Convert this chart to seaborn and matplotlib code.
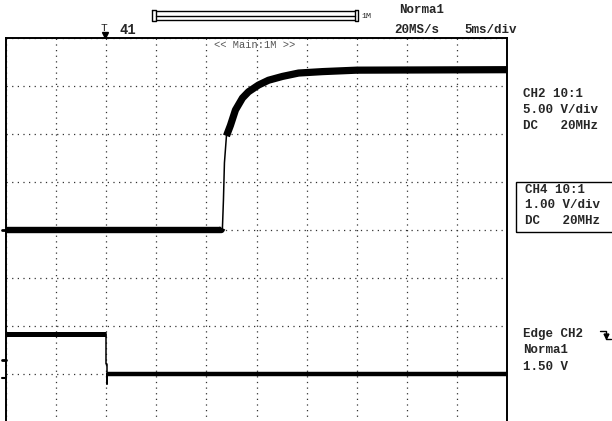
import numpy as np
import pandas as pd
import matplotlib
matplotlib.use('Agg')
import matplotlib.pyplot as plt
from matplotlib.lines import Line2D
from matplotlib.patches import Rectangle
import seaborn as sns

# scope settings: 5 ms/div, 10 divisions across, 8 down
ms_per_div = 5
ch2_scale = 5.0   # V/div
ch4_scale = 1.0   # V/div

# CH2 trace (ms, V)
ch2_t = [0.0, 21.5, 21.6, 21.7, 21.8, 22.0, 22.4, 22.9, 23.6, 24.2, 25.2, 26.2, 27.6, 29.2, 31.6, 35.0, 50.0]
ch2_v = [0.0, 0.0, 0.2, 3.1, 7.0, 9.8, 10.9, 12.5, 13.75, 14.4, 15.1, 15.6, 16.0, 16.35, 16.5, 16.65, 16.7]
# CH4 trace (ms, V)
ch4_t = [0.0, 10.0, 10.0, 10.1, 10.1, 10.1, 50.0]
ch4_v = [0.83, 0.83, 0.2, 0.2, -0.2, 0.0, 0.0]

ch2_pos = 4.0   # ground position in divisions from bottom
ch4_pos = 1.0

W, H = 612, 421

sns.set_style("white")
plt.rcParams['font.family'] = ['Liberation Mono', 'DejaVu Sans Mono']

fig = plt.figure(figsize=(W / 100, H / 100), dpi=100)
fig.patch.set_facecolor('white')


def px(x, y):
    return x / W, 1 - y / H


ax = fig.add_axes([6 / W, -1 / H, 501 / W, 384 / H])

df2 = pd.DataFrame({'t': ch2_t, 'y': ch2_pos + np.array(ch2_v) / ch2_scale})
df4 = pd.DataFrame({'t': ch4_t, 'y': ch4_pos + np.array(ch4_v) / ch4_scale})

line_kw = dict(ax=ax, color='black', sort=False, estimator=None, solid_capstyle='butt')

# thin full traces (edges), then thick noisy bands on the flat parts
sns.lineplot(data=df2, x='t', y='y', lw=1.1, **line_kw)
sns.lineplot(data=df4, x='t', y='y', lw=1.1, **line_kw)
sns.lineplot(data=df2[df2.t <= 21.6], x='t', y='y', lw=4.6, **line_kw)
sns.lineplot(data=df2[df2.t >= 22.0], x='t', y='y', lw=5.2, **line_kw)
ch4_high = df4[(df4.t < 10.0) | ((df4.t == 10.0) & (df4.y == df4.y.max()))]
ch4_low = df4[(df4.t > 10.1) | ((df4.t == 10.1) & (df4.y == ch4_pos))]
sns.lineplot(data=ch4_high, x='t', y='y', lw=3.6, **line_kw)
sns.lineplot(data=ch4_low, x='t', y='y', lw=3.2, **line_kw)

ax.set_xlim(0, 10 * ms_per_div)
ax.set_ylim(0, 8)
ax.set_xticks(np.arange(0, 10 * ms_per_div + 1, ms_per_div))
ax.set_yticks(np.arange(0, 9, 1))
ax.set_xticklabels([])
ax.set_yticklabels([])
ax.tick_params(length=0)
ax.set_xlabel('')
ax.set_ylabel('')
ax.grid(True, color='#333333', lw=0.9, linestyle=(0, (1, 3.5)))
for s in ['top', 'left', 'right']:
    ax.spines[s].set_visible(True)
    ax.spines[s].set_color('black')
    ax.spines[s].set_linewidth(1.4)
ax.spines['bottom'].set_visible(False)


def ftext(x, y, s, **kw):
    kw.setdefault('fontsize', 9)
    kw.setdefault('fontweight', 'bold')
    kw.setdefault('va', 'center')
    kw.setdefault('ha', 'left')
    fig.text(*px(x, y), s, **kw)


def fline(xs, ys, **kw):
    fx = [x / W for x in xs]
    fy = [1 - y / H for y in ys]
    kw.setdefault('color', 'black')
    kw.setdefault('lw', 1)
    fig.add_artist(Line2D(fx, fy, **kw))


# top status bar
fline([152, 152, 156, 156, 152], [10, 21, 21, 10, 10])
fline([156, 355], [11, 11])
fline([156, 355], [15.5, 15.5])
fline([156, 355], [20, 20])
fline([355, 355, 358, 358, 355], [10, 21, 21, 10, 10])
ftext(361, 16, '1M', fontsize=6, fontweight='normal')
ftext(399, 10, 'Norma1')
ftext(394, 30, '20MS/s')
ftext(464, 30, '5ms/div')
ftext(120, 30, '41', fontsize=10)
ftext(104, 28, 'T', fontsize=8, fontweight='normal', ha='center')
fig.add_artist(Line2D([105 / W], [1 - 35 / H], marker='v', ms=4, color='black', lw=0))
ftext(214, 45, '<< Main:1M >>', fontsize=7.5, fontweight='normal', color='#555555')

# channel info
ftext(523, 94, 'CH2 10:1')
ftext(523, 110, '5.00 V/div')
ftext(523, 126, 'DC   20MHz')
fig.add_artist(Rectangle(px(516, 232), 100 / W, 50 / H, fill=False, ec='black', lw=1))
ftext(525, 190, 'CH4 10:1')
ftext(525, 205, '1.00 V/div')
ftext(525, 221, 'DC   20MHz')

# trigger info
ftext(523, 334, 'Edge CH2')
fline([600, 606, 606, 611], [331, 331, 339, 339])
fig.add_artist(Line2D([606 / W], [1 - 336 / H], marker='v', ms=3.5, color='black', lw=0))
ftext(523, 350, 'Norma1')
ftext(523, 367, '1.50 V')

# ground markers on left edge
fline([2, 6], [230, 230], lw=2)
fline([2, 6], [360, 360], lw=2)
fline([2, 6], [378, 378], lw=1.5)

fig.savefig('out.png', dpi=100)
